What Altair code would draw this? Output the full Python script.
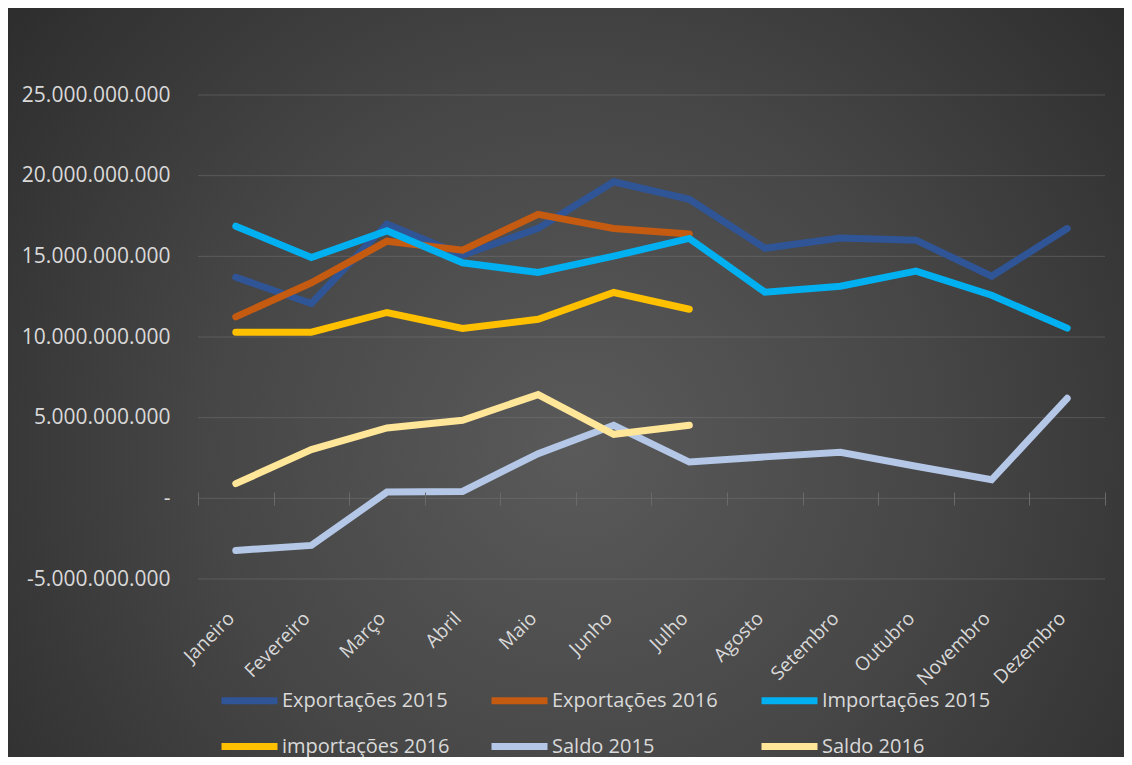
import altair as alt
import pandas as pd

meses = ["Janeiro", "Fevereiro", "Março", "Abril", "Maio", "Junho", "Julho",
         "Agosto", "Setembro", "Outubro", "Novembro", "Dezembro"]

series = ["Exportações 2015", "Exportações 2016", "Importações 2015",
          "importações 2016", "Saldo 2015", "Saldo 2016"]
cores = ["#2f5597", "#c55a11", "#00b0f0", "#ffc000", "#b4c7e7", "#ffe699"]

# valores em bilhões
exp2015 = [13.70, 12.08, 17.00, 15.07, 16.73, 19.62, 18.53, 15.50, 16.13, 16.00, 13.77, 16.72]
exp2016 = [11.25, 13.36, 15.94, 15.38, 17.60, 16.73, 16.38]
imp2015 = [16.87, 14.93, 16.58, 14.60, 14.00, 15.01, 16.11, 12.78, 13.15, 14.08, 12.59, 10.55]
imp2016 = [10.30, 10.30, 11.52, 10.53, 11.10, 12.76, 11.72]
saldo2015 = [-3.23, -2.92, 0.39, 0.43, 2.77, 4.53, 2.25, 2.57, 2.85, 1.99, 1.15, 6.20]
saldo2016 = [0.91, 3.02, 4.36, 4.84, 6.43, 3.97, 4.53]

yticks = [-5e9, 0, 5e9, 10e9, 15e9, 20e9, 25e9]

rows = []
for nome, vals in zip(series, [exp2015, exp2016, imp2015, imp2016, saldo2015, saldo2016]):
    for m, v in zip(meses, vals):
        rows.append({"Mês": m, "Série": nome, "Valor": v * 1e9})
df = pd.DataFrame(rows)

W, H = 907, 484
PAD = {"left": 190, "top": 87, "right": 19, "bottom": 178}

bg = alt.Chart(pd.DataFrame({"a": [0]})).mark_rect(
    color=alt.RadialGradient(
        gradient="radial",
        stops=[alt.GradientStop(color="#5a5a5a", offset=0),
               alt.GradientStop(color="#464646", offset=0.45),
               alt.GradientStop(color="#262626", offset=1)],
        x1=0.5, y1=0.55, x2=0.5, y2=0.55, r1=0, r2=0.72),
).encode(
    x=alt.value(-PAD["left"]), x2=alt.value(W + PAD["right"] + 20),
    y=alt.value(-PAD["top"]), y2=alt.value(H + PAD["bottom"] + 20),
)

yscale = alt.Scale(domain=[-5e9, 25e9], nice=False, zero=False)

label_expr = ("datum.value == 0 ? '-' : replace(replace(format(datum.value, ',.0f'), "
              "regexp(',', 'g'), '.'), '\u2212', '-')")

yaxis = alt.Axis(title=None, values=yticks, labelExpr=label_expr,
                 domain=False, ticks=False, grid=False, zindex=1,
                 labelFontSize=21, labelColor="#d9d9d9", labelPadding=28,
                 labelFont="Open Sans")

grid = alt.Chart(pd.DataFrame({"v": yticks})).mark_rule(
    color="#7a7a7a", opacity=0.45, strokeWidth=1
).encode(y=alt.Y("v:Q", scale=yscale, axis=yaxis))

lines = alt.Chart(df).mark_line(strokeWidth=7, strokeCap="round").encode(
    x=alt.X("Mês:N", sort=meses, bandPosition=0.5,
            scale=alt.Scale(type="band", paddingInner=0, paddingOuter=0),
            axis=alt.Axis(title=None, orient="bottom", offset=-87, domain=False,
                          ticks=True, tickBand="extent", tickSize=13,
                          tickColor="#6a6a6a", tickWidth=1, grid=False, zindex=1,
                          labelAngle=-45, labelAlign="right", labelBaseline="middle",
                          labelPadding=110, labelOffset=-5, labelFontSize=19,
                          labelColor="#d9d9d9", labelFont="Open Sans")),
    y=alt.Y("Valor:Q", scale=yscale, axis=yaxis),
    color=alt.Color("Série:N", sort=series,
                    scale=alt.Scale(domain=series, range=cores),
                    legend=alt.Legend(title=None, orient="none", legendX=20, legendY=574,
                                      direction="horizontal",
                                      columns=3, symbolType="stroke", symbolSize=3136,
                                      symbolStrokeWidth=7, labelFontSize=20,
                                      labelColor="#d9d9d9", labelFont="Open Sans",
                                      labelOffset=1, columnPadding=26, rowPadding=-16,
                                      gridAlign="all", padding=0, labelLimit=400,
                                      zindex=1)),
)

chart = alt.layer(bg, grid, lines).properties(
    width=W, height=H, padding=PAD,
    autosize=alt.AutoSizeParams(type="none"),
    background="#2b2b2b",
).configure_view(stroke=None)

chart.save("out.html", embed_options={"renderer": "svg", "actions": False})
